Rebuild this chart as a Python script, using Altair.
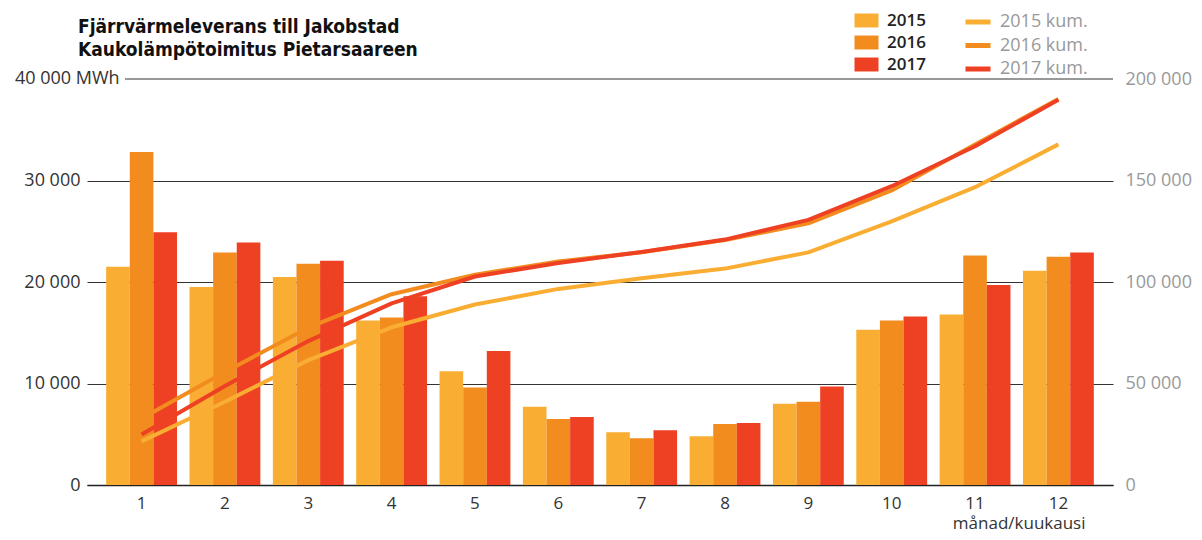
import altair as alt
import pandas as pd

months = list(range(1, 13))
years = ["2015", "2016", "2017"]
series = ["2015 kum.", "2016 kum.", "2017 kum."]
v2015 = [21500, 19500, 20500, 16200, 11200, 7700, 5200, 4800, 8000, 15300, 16800, 21100]
v2016 = [32800, 22900, 21800, 16500, 9600, 6500, 4600, 6000, 8200, 16200, 22600, 22500]
v2017 = [24900, 23900, 22100, 18600, 13200, 6700, 5400, 6100, 9700, 16600, 19700, 22900]
left_ticks = [0, 10000, 20000, 30000, 40000]
right_ticks = [0, 50000, 100000, 150000, 200000]
title_lines = ["Fjärrvärmeleverans till Jakobstad", "Kaukolämpötoimitus Pietarsaareen"]
top_label = ["40 000 MWh"]

rows = []
for y, s, vals in zip(years, series, [v2015, v2016, v2017]):
    for m, v in zip(months, vals):
        rows.append({"month": m, "year": y, "serie": s, "value": v})
df = pd.DataFrame(rows)

colors = ["#F9AE33", "#F28C1F", "#EE4124"]
W, H = 1026, 406
FONT = "Open Sans"
TFONT = "DejaVu Sans Condensed"
fmt = "datum.value == 0 ? '0' : datum.value == 40000 ? '' : replace(format(datum.value, ','), ',', ' ')"
fmt_r = "datum.value == 0 ? '0' : replace(format(datum.value, ','), ',', ' ')"

xscale = alt.Scale(paddingInner=0.15, paddingOuter=0.23)

base = alt.Chart(df)

bars = base.mark_bar(stroke=None).encode(
    x=alt.X("month:O", scale=xscale,
            axis=alt.Axis(labelAngle=0, ticks=False, domain=True, domainColor="#222",
                          domainWidth=1.5, labelFontSize=17, labelColor="#333",
                          labelFont=FONT, labelPadding=10,
                          title="månad/kuukausi", titleFont=FONT, titleFontSize=17,
                          titleFontWeight="normal", titleColor="#333",
                          titleAlign="right", titleAnchor="end", titleX=998, titleY=43,
                          titleBaseline="alphabetic")),
    xOffset=alt.XOffset("year:N", scale=alt.Scale(paddingInner=0, paddingOuter=0)),
    y=alt.Y("value:Q", scale=alt.Scale(domain=[0, 40000]),
            axis=alt.Axis(values=left_ticks, labelExpr=fmt, grid=True, gridColor="#333",
                          gridWidth=1,
                          gridOpacity={"condition": {"test": "datum.value == 40000", "value": 0}, "value": 1},
                          domain=False, ticks=False, labelPadding=7, labelFontSize=18,
                          labelColor="#333", labelFont=FONT, title=None)),
    fill=alt.Fill("year:N", scale=alt.Scale(domain=years, range=colors),
                  legend=alt.Legend(orient="none", legendX=771, legendY=-67, title=None,
                                    symbolType="M-1.6,-0.93H1.6V0.93H-1.6Z", symbolSize=225,
                                    labelOffset=12, labelFontSize=17, labelFont=FONT,
                                    labelFontWeight=600, labelColor="#222",
                                    rowPadding=4, padding=0, symbolStrokeWidth=0)),
)

toplab = alt.Chart(pd.DataFrame({"t": top_label, "v": [40000]})).mark_text(
    align="left", baseline="middle", fontSize=18, font=FONT, color="#333"
).encode(text="t:N", x=alt.value(-72), y="v:Q")

top_rule = alt.Chart(pd.DataFrame({"v": [40000]})).mark_rule(color="#333", strokeWidth=1).encode(
    y="v:Q", x=alt.value(38), x2=alt.value(W))

title_df = pd.DataFrame({"t": title_lines})
title1 = alt.Chart(title_df.iloc[[0]]).mark_text(
    align="left", baseline="alphabetic", fontSize=19, font=TFONT,
    fontWeight="bold", color="#111"
).encode(text="t:N", x=alt.value(-9), y=alt.value(-46))
title2 = alt.Chart(title_df.iloc[[1]]).mark_text(
    align="left", baseline="alphabetic", fontSize=19, font=TFONT,
    fontWeight="bold", color="#111"
).encode(text="t:N", x=alt.value(-9), y=alt.value(-23))

left = alt.layer(bars, top_rule, toplab, title1, title2)

lines = base.transform_window(
    cum="sum(value)", sort=[alt.SortField("month")], groupby=["year"], frame=[None, 0]
).mark_line(strokeWidth=4, strokeJoin="round").encode(
    x=alt.X("month:O", scale=xscale),
    y=alt.Y("cum:Q", scale=alt.Scale(domain=[0, 200000]),
            axis=alt.Axis(orient="right", values=right_ticks, labelExpr=fmt_r, grid=False,
                          domain=False, ticks=False, labelPadding=12, labelFontSize=18,
                          labelColor="#999", labelFont=FONT, title=None)),
    stroke=alt.Stroke("serie:N", scale=alt.Scale(domain=series, range=colors),
                      legend=alt.Legend(orient="none", legendX=881, legendY=-67, title=None,
                                        symbolType="M-1.67,0H1.67", symbolSize=225,
                                        symbolStrokeWidth=5, labelOffset=12,
                                        labelFontSize=18, labelFont=FONT,
                                        labelColor="#999", rowPadding=3.5, padding=0)),
)

chart = alt.layer(left, lines).resolve_scale(y="independent", fill="independent", stroke="independent").properties(
    width=W, height=H,
    autosize=alt.AutoSizeParams(type="none"),
    padding={"left": 79, "top": 71, "right": 81, "bottom": 47},
).configure(background="white", view=alt.ViewConfig(stroke=None))

chart.save("out.html", embed_options={"renderer": "svg", "actions": False})
